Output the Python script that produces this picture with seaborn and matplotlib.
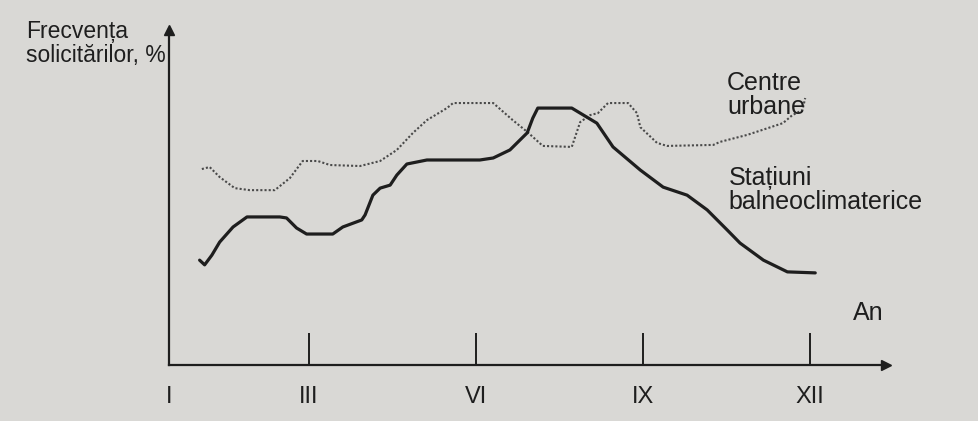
import seaborn as sns
import matplotlib.pyplot as plt
import pandas as pd

# month (x) and request frequency (y, arbitrary %)
spa_month = [1.04, 1.13, 1.26, 1.40, 1.64, 1.89, 2.48, 2.60, 2.78, 2.96, 3.43, 3.61,
             3.95, 4.01, 4.15, 4.28, 4.46, 4.58, 4.76, 5.12, 6.07, 6.31, 6.61, 6.92,
             7.02, 7.11, 7.72, 7.87, 8.17, 8.46, 8.95, 9.36, 9.79, 10.15, 10.51, 10.74,
             11.16, 11.59, 12.09]
spa_freq = [31.3, 29.9, 32.8, 36.7, 41.2, 44.2, 44.2, 43.9, 40.9, 39.1, 39.1, 41.2,
            43.3, 44.8, 50.7, 52.8, 53.7, 56.7, 60.0, 61.2, 61.2, 61.8, 64.2, 69.3,
            73.7, 76.7, 76.7, 75.2, 72.2, 65.1, 58.2, 53.1, 50.7, 46.3, 40.3, 36.4,
            31.3, 27.8, 27.5]

city_month = [1.08, 1.22, 1.40, 1.67, 1.94, 2.39, 2.66, 2.89, 3.16, 3.38, 3.92, 4.28,
              4.58, 4.87, 5.12, 5.48, 5.59, 6.31, 6.66, 6.92, 7.20, 7.72, 7.87, 8.05,
              8.19, 8.37, 8.73, 8.89, 8.95, 9.25, 9.43, 10.26, 10.38, 10.87, 11.51,
              11.68, 11.86, 11.91]
city_freq = [58.5, 59.1, 56.1, 52.8, 52.2, 52.2, 55.8, 60.9, 60.9, 59.7, 59.4, 60.9,
             64.2, 69.3, 73.1, 76.7, 78.2, 78.2, 73.1, 69.6, 65.4, 65.1, 72.5, 74.6,
             75.2, 78.2, 78.2, 75.2, 71.0, 66.3, 65.4, 65.7, 66.6, 68.7, 72.2,
             74.6, 76.1, 79.7]

tick_pos = [0.49, 3, 6, 9, 12]
tick_labels = ['I', 'III', 'VI', 'IX', 'XII']

spa = pd.DataFrame({'luna': spa_month, 'frecventa': spa_freq})
city = pd.DataFrame({'luna': city_month, 'frecventa': city_freq})

sns.set_theme(style='white')
plt.rcParams['font.family'] = ['Liberation Sans', 'DejaVu Sans']

bg = '#d9d8d5'
ink = '#1e1e1e'

fig = plt.figure(figsize=(9.79, 4.21), dpi=100, facecolor=bg)
ax = fig.add_axes([0.1726, 0.133, 0.7324, 0.7957])
ax.set_facecolor(bg)

sns.lineplot(data=city, x='luna', y='frecventa', color='#4a4a4a', lw=1.5,
             linestyle=(0, (1, 1)), ax=ax)
sns.lineplot(data=spa, x='luna', y='frecventa', color=ink, lw=2.3, ax=ax)

ax.set_xlim(0.49, 13.36)
ax.set_ylim(0, 100)

for side in ['top', 'right']:
    ax.spines[side].set_visible(False)
for side in ['left', 'bottom']:
    ax.spines[side].set_color(ink)
    ax.spines[side].set_linewidth(1.6)

# arrow heads on the axes
ax.plot(1, 0, '>', color=ink, ms=7, transform=ax.transAxes, clip_on=False)
ax.plot(0, 1, '^', color=ink, ms=7, transform=ax.transAxes, clip_on=False)

ax.set_xticks(tick_pos)
ax.set_xticklabels(tick_labels, fontsize=17, color=ink)
ax.set_yticks([])
ax.tick_params(axis='x', direction='in', length=23, width=1.4, color=ink, pad=15, bottom=True)
ax.set_xlabel('')
ax.set_ylabel('')

ax.text(10.51, 80.5, 'Centre\nurbane', fontsize=18, color=ink, va='center',
        ha='left', linespacing=1.0)
ax.text(10.54, 52.2, 'Stațiuni\nbalneoclimaterice', fontsize=18, color=ink,
        va='center', ha='left', linespacing=1.0)
ax.text(12.77, 15.5, 'An', fontsize=18, color=ink, va='center', ha='left')

fig.text(0.027, 0.897, 'Frecvența\nsolicitărilor, %', fontsize=16.5, color=ink,
         va='center', ha='left', linespacing=1.05)

plt.savefig('out.png', dpi=100, facecolor=bg)
plt.close()
